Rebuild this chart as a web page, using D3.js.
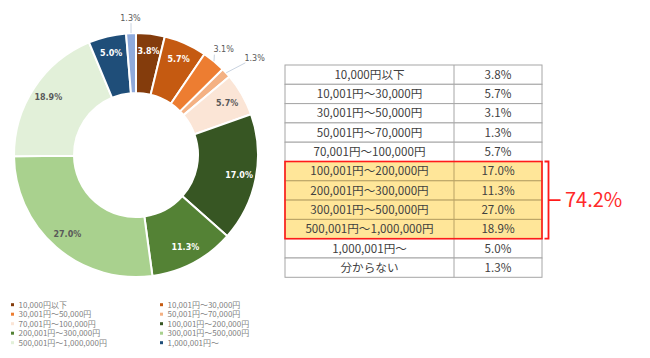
<!DOCTYPE html>
<html><head><meta charset="utf-8">
<script src="https://cdn.jsdelivr.net/npm/d3@7/dist/d3.min.js"></script>
<style>html,body{margin:0;padding:0;background:#fff;}svg{display:block;}</style>
</head><body>
<svg id="c" width="650" height="358"></svg>
<script>
const categories = ["10,000円以下","10,001円～30,000円","30,001円～50,000円","50,001円～70,000円","70,001円～100,000円","100,001円～200,000円","200,001円～300,000円","300,001円～500,000円","500,001円～1,000,000円","1,000,001円～","分からない"];
const values = [3.8,5.7,3.1,1.3,5.7,17.0,11.3,27.0,18.9,5.0,1.3];
const valueLabels = ["3.8%","5.7%","3.1%","1.3%","5.7%","17.0%","11.3%","27.0%","18.9%","5.0%","1.3%"];
const colors = ["#843C0C","#C55A11","#ED7D31","#F4B183","#FBE5D6","#375623","#548235","#A9D18E","#E2F0D9","#1F4E79","#8FAADC"];
const labelColors = ["#fff","#fff","#595959","#595959","#595959","#fff","#fff","#595959","#595959","#fff","#595959"];
const legendItems = categories.slice(0,10);
const highlightRange = [5,8];
const highlightTotal = "74.2%";

const svg = d3.select("#c");
const cx = 136, cy = 155, R = 122, r0 = 62;
const g = svg.append("g").attr("transform",`translate(${cx},${cy})`);
const pie = d3.pie().sort(null).value(d=>d)(values);
const arc = d3.arc().innerRadius(r0).outerRadius(R);
g.selectAll("path").data(pie).join("path")
  .attr("d",arc).attr("fill",(d,i)=>colors[i]).attr("stroke","#fff").attr("stroke-width",2);

const labArc = d3.arc().innerRadius(105).outerRadius(105);
const placed = [];
pie.forEach((d,i)=>{
  const a = (d.startAngle+d.endAngle)/2;
  if (values[i] >= 3.5) {
    const [x,y] = labArc.centroid(d);
    g.append("text").attr("x",x).attr("y",y).attr("dy","0.35em").attr("text-anchor","middle")
      .attr("font-family","DejaVu Sans").attr("font-weight","bold").attr("font-size",8)
      .attr("fill",labelColors[i]).text(valueLabels[i]);
  } else {
    const w = valueLabels[i].length*4.6, h = 10;
    const x0 = 137*Math.sin(a), y0 = -137*Math.cos(a);
    let dx = Math.sin(a) + 0.5*Math.cos(a), dy = -Math.cos(a) + 0.5*Math.sin(a);
    const n = Math.hypot(dx,dy); dx/=n; dy/=n;
    const mk = t => { const x = x0+dx*t, y = y0+dy*t; return {x,y,x0:x-w/2,x1:x+w/2,y0:y-h/2,y1:y+h/2}; };
    const padX = 12, padY = 5;
    const ov = b => placed.some(p => !(b.x1 < p.x0-padX || b.x0 > p.x1+padX || b.y1 < p.y0-padY || b.y0 > p.y1+padY));
    let t = 0, box = mk(t);
    while (ov(box) && t < 80) { t += 1; box = mk(t); }
    placed.push(box);
    const ax = R*Math.sin(a), ay = -R*Math.cos(a);
    const lx = Math.max(box.x0, Math.min(box.x1, ax)), ly = Math.max(box.y0, Math.min(box.y1, ay));
    if (Math.hypot(lx-ax, ly-ay) > 6) {
      g.append("line").attr("x1",ax).attr("y1",ay).attr("x2",lx).attr("y2",ly)
        .attr("stroke","#C9D3E0").attr("stroke-width",1);
    }
    g.append("text").attr("x",box.x).attr("y",box.y).attr("dy","0.35em").attr("text-anchor","middle")
      .attr("font-family","DejaVu Sans").attr("font-size",8)
      .attr("fill","#595959").text(valueLabels[i]);
  }
});

// legend
const lg = svg.append("g");
const ly = d3.scaleLinear().domain([0,4]).range([304.7,342.7]);
const lx = d3.scaleOrdinal().domain([0,1]).range([12.5,161.5]);
legendItems.forEach((t,i)=>{
  const col = i%2, row = Math.floor(i/2);
  lg.append("rect").attr("x",lx(col)-1.5).attr("y",ly(row)-1.5).attr("width",3).attr("height",3).attr("fill",colors[i]);
  lg.append("text").attr("x",lx(col)+6).attr("y",ly(row)).attr("dy","0.35em")
    .attr("font-family","Noto Sans CJK JP").attr("font-size",8).attr("fill","#7F7F7F").text(t);
});

// table
const tx0 = 285, tx1 = 542, tmid = 454;
const rows = d3.scaleBand().domain(d3.range(categories.length)).range([65,277.3]);
const tg = svg.append("g");
categories.forEach((c,i)=>{
  const hl = i>=highlightRange[0] && i<=highlightRange[1];
  tg.append("rect").attr("x",tx0).attr("y",rows(i)).attr("width",tx1-tx0).attr("height",rows.bandwidth())
    .attr("fill",hl?"#FFE699":"#fff").attr("stroke",hl?"#B9A264":"#A6A6A6").attr("stroke-width",1);
  tg.append("line").attr("x1",tmid).attr("x2",tmid).attr("y1",rows(i)).attr("y2",rows(i)+rows.bandwidth())
    .attr("stroke",hl?"#B9A264":"#A6A6A6").attr("stroke-width",1);
  tg.append("text").attr("x",(tx0+tmid)/2).attr("y",rows(i)+rows.bandwidth()/2).attr("dy","0.36em")
    .attr("text-anchor","middle").attr("font-family","Noto Sans CJK JP").attr("font-size",11.6).attr("fill","#404040").text(c);
  tg.append("text").attr("x",(tmid+tx1)/2).attr("y",rows(i)+rows.bandwidth()/2).attr("dy","0.36em")
    .attr("text-anchor","middle").attr("font-family","Noto Sans CJK JP").attr("font-size",11.6).attr("fill","#404040").text(valueLabels[i]);
});
const hy0 = rows(highlightRange[0]), hy1 = rows(highlightRange[1])+rows.bandwidth();
tg.append("rect").attr("x",tx0).attr("y",hy0).attr("width",tx1-tx0).attr("height",hy1-hy0)
  .attr("fill","none").attr("stroke","#FF1A1A").attr("stroke-width",1.6);
// bracket
const bx = 548.5, hm = (hy0+hy1)/2;
svg.append("path").attr("d",`M${bx-4},${hy0}H${bx}V${hy1}H${bx-4}M${bx},${hm}H${bx+12}`)
  .attr("fill","none").attr("stroke","#FF1A1A").attr("stroke-width",1.8);
svg.append("text").attr("x",565).attr("y",hm).attr("dy","0.36em")
  .attr("font-family","Noto Sans CJK JP").attr("font-size",20).attr("fill","#FF2A2A").text(highlightTotal);
</script>
</body></html>
